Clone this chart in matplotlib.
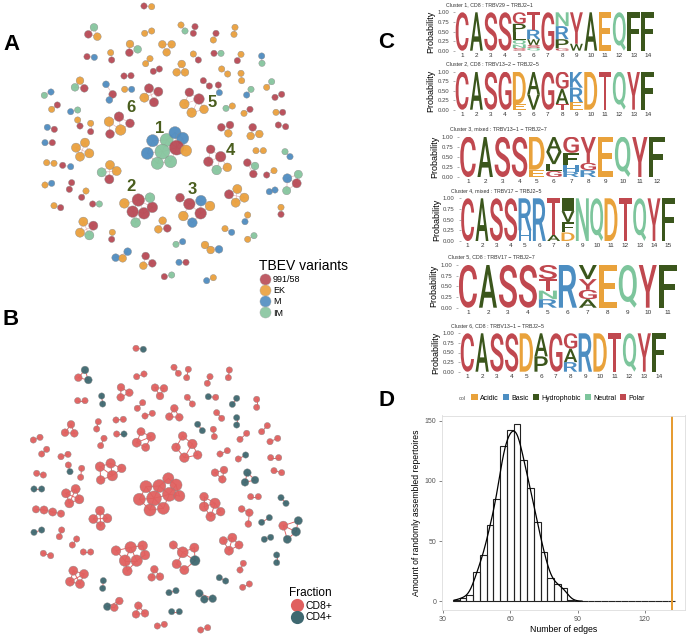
import numpy as np
import matplotlib.pyplot as plt
from matplotlib.textpath import TextPath
from matplotlib.patches import PathPatch, Patch
from matplotlib.font_manager import FontProperties
from matplotlib.lines import Line2D
from matplotlib.transforms import Affine2D

plt.rcParams['font.family'] = ['Liberation Sans', 'DejaVu Sans']

W, H = 689, 636

# ---------------- panel A : clonotype network, coloured by TBEV variant ----------------
# one string per connected component (r=991/58, o=EK, b=M, g=IM), layout coords below
a_groups = ["ro", "gro", "oo", "og", "rr", "ro", "oo", "org", "ooo", "rb", "or", "oo", "or", "rg",
            "or", "bg", "rr", "ooo", "oo", "oo", "rr", "ogr", "brb", "ob", "rror", "rr", "rb", "go",
            "gb", "gb", "or", "rr", "rrooo", "go", "or", "or", "bg", "rroro", "or", "or", "br", "rro",
            "roo", "rr", "bgbbrobggg", "br", "oooo", "rrrgo", "oo", "gb", "oo", "rb", "ogor", "rgr",
            "ro", "bgrg", "ob", "rr", "rorrrgg", "rborobr", "rooo", "bb", "or", "rg", "or", "or",
            "orog", "oor", "ob", "or", "ob", "og", "gb", "oob", "bob", "rro", "br", "rg", "bo"]
a_x = [432, 455, 282, 265, 292, 434, 455, 543, 555, 585, 580, 648, 640, 705, 702,
       390, 388, 413, 487, 515, 500, 261, 283, 332, 335, 437, 450, 580, 595, 642, 663,
       723, 712, 785, 786, 460, 478, 545, 530, 555, 665, 683, 723, 725, 372, 393,
       240, 225, 253, 318, 338, 328, 374, 395, 447, 475, 433, 462, 610, 628, 655, 658,
       815, 800, 753, 740, 133, 153, 155, 172, 825, 845, 568, 597, 553, 575, 612,
       678, 697, 732, 750, 828, 848, 212, 233, 357, 390, 327, 330, 362, 233, 240,
       272, 272, 142, 163, 664, 690, 685, 758, 752, 778, 835, 857,
       458, 500, 525, 548, 530, 558, 442, 487, 472, 512, 135, 157, 255, 228, 240, 268,
       632, 662, 625, 650, 682, 768, 790, 855, 870, 140, 162, 188, 212, 330, 305, 350, 328,
       742, 765, 760, 800, 822, 862, 895, 890, 860, 135, 155, 215, 208,
       415, 373, 398, 432, 457, 450, 407, 568, 603, 630, 602, 550, 577, 540,
       687, 712, 733, 707, 808, 825, 258, 245, 278, 298, 162, 182, 843, 843,
       250, 280, 240, 268, 488, 475, 502, 743, 735, 337, 335, 675, 695, 743, 762,
       528, 548, 615, 632, 657, 347, 368, 383, 437, 457, 430, 537, 558, 493, 515, 620, 640]
a_y = [18, 20, 82, 103, 110, 100, 93, 75, 93, 80, 100, 100, 120, 82, 103,
       132, 158, 148, 133, 133, 157, 170, 172, 158, 180, 191, 176, 162, 180, 160, 160,
       163, 182, 168, 190, 214, 207, 192, 217, 217, 207, 222, 220, 242, 228, 227,
       242, 262, 265, 253, 283, 300, 268, 268, 265, 275, 293, 307, 242, 258, 255, 278,
       245, 262, 268, 285, 286, 276, 328, 315, 292, 283, 277, 297, 312, 338, 328,
       325, 318, 340, 328, 337, 337, 335, 330, 350, 370, 365, 402, 390, 360, 378,
       370, 395, 382, 388, 382, 375, 400, 382, 408, 402, 375, 380,
       422, 420, 398, 415, 443, 452, 460, 455, 490, 485, 428, 428, 428, 443, 470, 460,
       448, 470, 485, 510, 502, 452, 452, 455, 470, 488, 490, 496, 500, 495, 517, 513, 538,
       488, 498, 522, 525, 512, 535, 523, 550, 572, 555, 550, 548, 568,
       600, 610, 635, 640, 622, 593, 668, 612, 602, 618, 640, 648, 668, 593,
       583, 567, 593, 608, 575, 570, 573, 592, 612, 612, 617, 623, 622, 643,
       665, 677, 698, 706, 662, 688, 685, 645, 665, 697, 718, 686, 697, 718, 707,
       733, 725, 735, 750, 748, 773, 775, 755, 768, 790, 797, 787, 787, 830, 825, 842, 833]
a_palette = {"r": "#B84A55", "o": "#EAA03D", "b": "#4F8CC0", "g": "#86C59E"}
a_labels = {"r": "991/58", "o": "EK", "b": "M", "g": "IM"}
cluster_ids = ["1", "2", "3", "4", "5", "6"]
cluster_lx = [478, 393, 578, 692, 635, 393]
cluster_ly = [385, 560, 570, 452, 308, 322]

# ---------------- panel B : same network, coloured by T-cell fraction ----------------
b_groups = ["rt", "trt", "rr", "rr", "rr", "rr", "rr", "rrr", "rrr", "rr", "tt", "rr", "tr", "tt",
            "rr", "rr", "rrr", "rr", "rr", "tt", "rr", "rr", "rr", "tt", "rr", "rr", "rrr", "rt",
            "rr", "rrrr", "rrrrr", "rr", "rr", "rr", "rr", "rr", "tr", "rr", "rrrrr", "rt", "rr",
            "rrr", "ttt", "rr", "rr", "rrrrrrrrrr", "rrrr", "tt", "rrrrr", "rr", "tt", "rrrr", "rrr",
            "rrrr", "rttt", "tt", "tt", "rr", "rrrrrrr", "rrrtrr", "rrrr", "rr", "tt", "rr", "rr",
            "tt", "rr", "rrrr", "rrr", "tt", "tt", "rr", "tt", "ttt", "trr", "rrr", "tt", "rr", "rr"]
b_x = [408, 430, 255, 235, 265, 410, 432, 522, 535, 565, 560, 630, 622, 688, 685,
       363, 388, 362, 465, 492, 480, 233, 255, 305, 308, 562, 577, 625, 647, 710, 697,
       770, 770, 428, 412, 523, 508, 538, 435, 457, 650, 665, 710, 710, 348, 370,
       312, 302, 295, 290, 593, 607, 640, 643, 802, 785, 213, 195, 223, 350, 372, 100, 120,
       423, 453, 410, 437, 548, 577, 528, 553, 593, 740, 720, 833, 810, 125, 140,
       183, 204, 660, 682, 737, 715, 812, 836, 300, 332, 365, 337, 302, 205, 210, 245, 242,
       645, 672, 667, 742, 735, 765, 822, 845, 110, 130,
       438, 478, 505, 528, 508, 538, 418, 462, 450, 490, 227, 198, 238, 208, 102, 125,
       612, 645, 612, 632, 662, 775, 752, 843, 858, 108, 132, 158, 183, 725, 748, 745,
       300, 280, 322, 302, 850, 895, 888, 862, 785, 808, 102, 125, 185, 178,
       392, 348, 428, 435, 375, 410, 382, 520, 548, 583, 585, 530, 553,
       670, 697, 717, 687, 230, 217, 793, 812, 130, 152, 250, 272, 830, 830, 730, 720,
       220, 252, 210, 240, 463, 455, 480, 310, 308, 658, 677, 728, 748, 507, 528,
       598, 613, 638, 322, 343, 358, 415, 408, 435, 515, 538, 472, 493, 602, 623]
b_y = [115, 118, 180, 203, 210, 200, 192, 172, 190, 178, 203, 200, 220, 180, 203,
       232, 248, 262, 233, 235, 258, 272, 272, 258, 282, 262, 282, 260, 262, 265, 283,
       268, 292, 278, 295, 295, 320, 322, 318, 310, 308, 325, 323, 345, 330, 328,
       385, 407, 335, 357, 343, 362, 358, 380, 347, 365, 343, 368, 370, 372, 372, 390, 382,
       365, 380, 398, 412, 378, 402, 412, 443, 435, 370, 388, 385, 395, 432, 418,
       440, 433, 432, 422, 435, 447, 443, 443, 470, 460, 475, 497, 510, 465, 485, 475, 502,
       488, 480, 508, 488, 517, 510, 482, 488, 490, 495,
       530, 528, 505, 525, 553, 558, 568, 565, 600, 595, 537, 550, 568, 580, 537, 537,
       560, 580, 590, 620, 605, 560, 560, 563, 580, 598, 600, 606, 611, 597, 608, 642,
       602, 627, 625, 648, 647, 632, 665, 688, 637, 623, 667, 660, 660, 680,
       712, 722, 707, 735, 752, 752, 783, 705, 727, 713, 752, 762, 780,
       692, 683, 705, 722, 687, 705, 688, 682, 730, 737, 726, 726, 735, 758, 760, 780,
       782, 792, 815, 822, 778, 802, 800, 812, 835, 803, 813, 832, 822, 848, 842,
       850, 868, 866, 890, 893, 873, 887, 913, 910, 905, 905, 948, 943, 960, 953]
b_palette = {"r": "#E0605F", "t": "#3E6870"}
b_labels = {"r": "CD8+", "t": "CD4+"}

# ---------------- panel C : CDR3 logos of the six largest clusters ----------------
logo_titles = ["Cluster 1, CD8 : TRBV29 \u2212 TRBJ2\u22121",
               "Cluster 2, CD8 : TRBV13\u22122 \u2212 TRBJ2\u22125",
               "Cluster 3, mixed : TRBV13\u22121 \u2212 TRBJ2\u22127",
               "Cluster 4, mixed : TRBV17 \u2212 TRBJ2\u22125",
               "Cluster 5, CD8 : TRBV17 \u2212 TRBJ2\u22127",
               "Cluster 6, CD8 : TRBV13\u22121 \u2212 TRBJ2\u22125"]
logo_res = [
    ["C", "A", "S", "S", "GPLQNS", "TRWSQ", "G", "NRPG", "YW", "A", "E", "Q", "F", "F"],
    ["C", "A", "S", "G", "DE", "AV", "G", "GAT", "KRE", "D", "T", "Q", "Y", "F"],
    ["C", "A", "S", "S", "DE", "AVLG", "GFHR", "YGR", "E", "Q", "Y", "F"],
    ["C", "A", "S", "S", "RH", "R", "TA", "IVFD", "N", "Q", "D", "T", "Q", "Y", "F"],
    ["C", "A", "S", "S", "STNR", "R", "VYGA", "E", "Q", "Y", "F"],
    ["C", "A", "S", "S", "D", "AP", "G", "GAR", "R", "D", "T", "Q", "Y", "F"],
]
logo_prob = [
    [[1], [1], [1], [1], [.30, .22, .20, .12, .09, .07], [.45, .25, .15, .08, .07], [1],
     [.36, .34, .24, .06], [.82, .18], [1], [1], [1], [1], [1]],
    [[1], [1], [1], [1], [.85, .15], [.6, .4], [1], [.45, .4, .15], [.42, .38, .2],
     [1], [1], [1], [1], [1]],
    [[1], [1], [1], [1], [.82, .18], [.38, .3, .17, .15], [.4, .3, .17, .13],
     [.65, .18, .17], [1], [1], [1], [1]],
    [[1], [1], [1], [1], [.75, .25], [1], [.85, .15], [.3, .26, .24, .2],
     [1], [1], [1], [1], [1], [1], [1]],
    [[1], [1], [1], [1], [.33, .27, .2, .2], [1], [.33, .25, .22, .2], [1], [1], [1], [1]],
    [[1], [1], [1], [1], [1], [.6, .4], [1], [.4, .35, .25], [1], [1], [1], [1], [1], [1]],
]
chem_names = ["Acidic", "Basic", "Hydrophobic", "Neutral", "Polar"]
chem_res = ["DE", "KRH", "AVLIPWFM", "QN", "GSTYC"]
chem_cols = ["#E9A23B", "#4C8EC2", "#3B561C", "#7DC59C", "#C0484F"]

# ---------------- panel D : edges in randomly assembled repertoires ----------------
bin_start, bin_width = 34.5, 3
edge_counts = [1, 3, 5, 24, 38, 63, 85, 129, 142, 147, 117, 94, 66, 41, 19, 14, 11, 1]
observed_edges = 132

fig = plt.figure(figsize=(W / 100, H / 100), dpi=100)


def px_box(l, t, r, b):
    return [l / W, 1 - b / H, (r - l) / W, (b - t) / H]


def draw_network(ax, xs, ys, groups, palette, edge_col, edge_lw):
    xs = np.asarray(xs, float)
    ys = np.asarray(ys, float)
    codes = "".join(groups)
    gsize = np.array([len(g) for g in groups])
    gid = np.repeat(np.arange(len(groups)), gsize)
    assert len(xs) == len(ys) == len(codes), (len(xs), len(ys), len(codes))
    n = len(xs)
    deg = np.zeros(n)
    segs = set()
    for g in range(len(groups)):
        idx = np.where(gid == g)[0]
        for k, i in enumerate(idx):
            d = np.hypot(xs[idx] - xs[i], ys[idx] - ys[i])
            d[k] = np.inf
            near = [idx[j] for j in np.where(d < 48)[0]]
            if not near:
                near = [idx[np.argmin(d)]]
            for j in near:
                segs.add((min(i, j), max(i, j)))
    for i, j in sorted(segs):
        deg[i] += 1
        deg[j] += 1
        ax.plot([xs[i], xs[j]], [ys[i], ys[j]], color=edge_col, lw=edge_lw, zorder=1)
    diam = 4.4 + 0.5 * gsize[gid] + 0.9 * deg
    cols = [palette[c] for c in codes]
    ax.scatter(xs, ys, s=(diam * 0.72) ** 2, c=cols, edgecolors="#8a8a8a",
               linewidths=0.3, alpha=0.95, zorder=2)
    ax.axis("off")


# panel A
axA = fig.add_axes(px_box(0, 0, 345, 320))
axA.set_xlim(0, 1035)
axA.set_ylim(960, 0)
draw_network(axA, a_x, a_y, a_groups, a_palette, "#e7b9b9", 0.5)
for lab, lx, ly in zip(cluster_ids, cluster_lx, cluster_ly):
    axA.text(lx, ly, lab, color="#4A5E1E", fontsize=12, fontweight="bold",
             ha="center", va="center", zorder=3)
handles = [Line2D([], [], ls="", marker="o", ms=8, mfc=a_palette[k], mec="#aaaaaa",
                  mew=0.3, alpha=0.9) for k in "robg"]
fig.legend(handles, [a_labels[k] for k in "robg"], title="TBEV variants",
           loc="upper left", bbox_to_anchor=(254 / W, 1 - 254 / H), frameon=False,
           fontsize=6.5, title_fontsize=10, handletextpad=0.1, labelspacing=0.25,
           borderpad=0, handlelength=1.5, alignment="left")

# panel B
axB = fig.add_axes(px_box(0, 310, 345, 636))
axB.set_xlim(0, 1035)
axB.set_ylim(978, 0)
draw_network(axB, b_x, b_y, b_groups, b_palette, "#e06666", 0.7)
handles = [Line2D([], [], ls="", marker="o", ms=9.5, mfc=b_palette[k], mec="none")
           for k in "rt"]
fig.legend(handles, [b_labels[k] for k in "rt"], title="Fraction",
           loc="upper left", bbox_to_anchor=(284 / W, 1 - 582 / H), frameon=False,
           fontsize=7.5, title_fontsize=8.5, handletextpad=0.1, labelspacing=0.15,
           borderpad=0, handlelength=1.5, alignment="left")

# panel C
res_col = {}
for r_, c_ in zip(chem_res, chem_cols):
    for aa in r_:
        res_col[aa] = c_
logo_fp = FontProperties(family="Roboto", weight="medium")
logo_box = [(455, 12.3, 655, 50.7), (455, 71.7, 655, 109.7), (459.4, 136.7, 665.6, 177),
            (460.5, 198.3, 675.5, 241), (458, 265, 677.7, 307.7), (460, 333.3, 666.4, 371.7)]


def draw_letter(ax, ch, xc, y0, h, width=0.9):
    tp = TextPath((0, 0), ch, size=1, prop=logo_fp)
    bb = tp.get_extents()
    tr = (Affine2D().translate(-bb.x0, -bb.y0)
          .scale(width / bb.width, h / bb.height)
          .translate(xc - width / 2, y0))
    ax.add_patch(PathPatch(tr.transform_path(tp), facecolor=res_col[ch], edgecolor="none"))


for title, res, prob, (l, t, r, b) in zip(logo_titles, logo_res, logo_prob, logo_box):
    ax = fig.add_axes(px_box(l, t, r, b))
    n = len(res)
    for pos in range(n):
        pairs = sorted(zip(res[pos], prob[pos]), key=lambda p: -p[1])
        y0 = 0
        for ch, p in reversed(pairs):
            draw_letter(ax, ch, pos + 1, y0, p)
            y0 += p
    ax.set_xlim(0.5, n + 0.5)
    ax.set_ylim(0, 1)
    ax.set_xticks(range(1, n + 1))
    ax.set_yticks([0, 0.25, 0.5, 0.75, 1])
    ax.set_yticklabels(["0.00", "0.25", "0.50", "0.75", "1.00"])
    ax.tick_params(axis="x", length=0, labelsize=4.6, pad=1.5, labelcolor="#333333")
    ax.tick_params(axis="y", length=1.2, width=0.4, color="#777777", labelsize=4.3, pad=3,
                   labelcolor="#444444")
    for s in ax.spines.values():
        s.set_visible(False)
    ax.set_ylabel("Probability", fontsize=6.5, labelpad=1.5)
    ax.text(-0.045, 1 + 8 / (b - t), title, transform=ax.transAxes, fontsize=3.8,
            color="#333333", ha="left", va="center")

fig.text(466 / W, 1 - 398 / H, "col", fontsize=4, color="#555555", ha="right", va="center")
fig.legend([Patch(facecolor=c) for c in chem_cols], chem_names, loc="center left",
           bbox_to_anchor=(468 / W, 1 - 398 / H), ncol=5, frameon=False, fontsize=5,
           handlelength=0.9, handleheight=0.9, handletextpad=0.3, columnspacing=0.6,
           borderpad=0)

# panel D
counts = np.array(edge_counts + [0] * 15, float)
left = bin_start + bin_width * np.arange(len(counts))
axD = fig.add_axes(px_box(442, 415.5, 685, 610))
axD.bar(left, counts, width=bin_width, align="edge", fill=False, edgecolor="#222222",
        linewidth=0.8)
centers = bin_start + bin_width * (np.arange(len(edge_counts)) + 0.5)
xs = np.linspace(35, 92, 300)
bw = 2.2
dens = bin_width * np.sum(np.array(edge_counts)[:, None] *
                          np.exp(-0.5 * ((xs[None, :] - centers[:, None]) / bw) ** 2) /
                          (bw * np.sqrt(2 * np.pi)), axis=0)
axD.plot(xs, dens, color="black", lw=0.9)
axD.axvline(observed_edges, color="#E69A2E", lw=1.4)
axD.set_xlim(29.6, 137.9)
axD.set_ylim(-7.35, 154.4)
axD.set_xticks([30, 60, 90, 120])
axD.set_yticks([0, 50, 100, 150])
axD.tick_params(length=2, width=0.5, color="#555555", labelsize=5, labelcolor="#555555", pad=2)
for s in axD.spines.values():
    s.set_color("#dddddd")
    s.set_linewidth(0.6)
axD.set_xlabel("Number of edges", fontsize=6.3, labelpad=2)
axD.set_ylabel("Amount of randomly assembled repertoires", fontsize=6.2, labelpad=3)

# panel letters
for lab, px, py in [("A", 11, 44), ("B", 11, 319), ("C", 386, 43), ("D", 386, 401)]:
    fig.text(px / W, 1 - py / H, lab, fontsize=16, fontweight="bold", ha="center", va="center")

fig.savefig("out.png", dpi=100)
